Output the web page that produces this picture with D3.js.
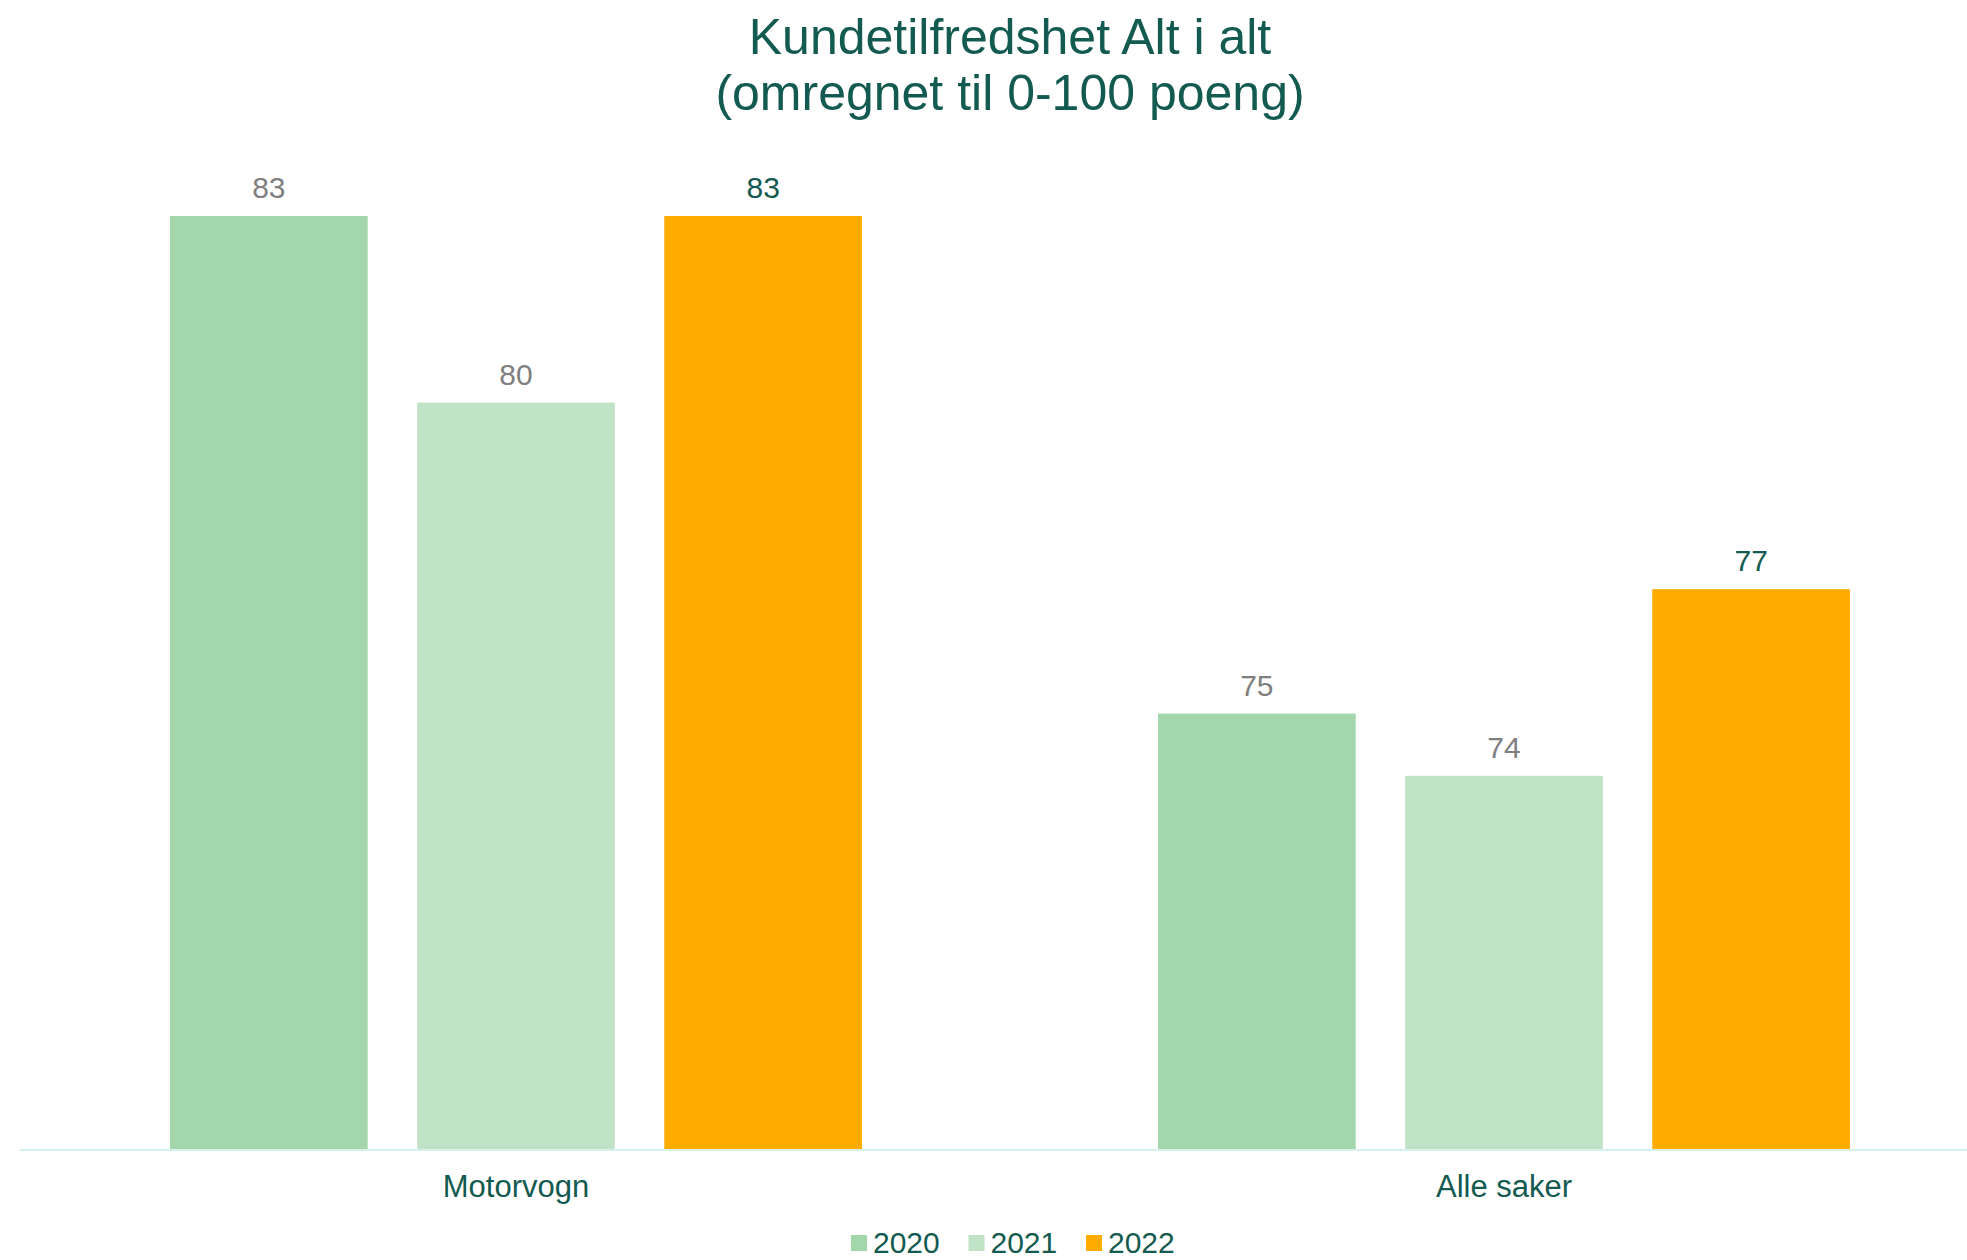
<!DOCTYPE html>
<html>
<head>
<meta charset="utf-8">
<script src="https://cdn.jsdelivr.net/npm/d3@7"></script>
<style>
  body { margin: 0; background: #fff; }
  text { font-family: "Liberation Sans", Arial, sans-serif; }
</style>
</head>
<body>
<script>
const w = 1967;
const h = 1260;

// data
const categories = ['Motorvogn', 'Alle saker'];
const years = ['2020', '2021', '2022'];
const values2020 = [83, 75];
const values2021 = [80, 74];
const values2022 = [83, 77];
const seriesValues = [values2020, values2021, values2022];
const colors = ['#a3d6ab', '#c0e2c7', '#ffab00'];
const labelColors = ['#7f7f7f', '#7f7f7f', '#135a50'];
const titleLines = ['Kundetilfredshet Alt i alt', '(omregnet til 0-100 poeng)'];

const darkGreen = '#135a50';
const baseY = 1149;

const svg = d3.select('body').append('svg')
    .attr('width', w)
    .attr('height', h);

const x0 = d3.scaleBand()
    .domain(categories)
    .range([22, 1998]);

const x1 = d3.scaleBand()
    .domain(years)
    .range([148, 840])
    .paddingInner(0.2);

const y = d3.scaleLinear()
    .domain([68, 84])
    .range([baseY, baseY - 16 * 62.2]);

// title
svg.append('g').selectAll('text')
    .data(titleLines)
    .enter()
    .append('text')
        .text(d => d)
        .attr('x', 1010)
        .attr('y', (d, i) => 54 + i * 56)
        .attr('text-anchor', 'middle')
        .attr('font-size', 50)
        .attr('fill', darkGreen);

// bars
const rows = [];
categories.forEach((c, ci) => {
    years.forEach((yr, si) => {
        rows.push({ cat: c, year: yr, si: si, v: seriesValues[si][ci] });
    });
});

svg.append('g').selectAll('rect')
    .data(rows)
    .enter()
    .append('rect')
        .attr('x', d => x0(d.cat) + x1(d.year))
        .attr('y', d => y(d.v))
        .attr('width', x1.bandwidth())
        .attr('height', d => baseY - y(d.v))
        .attr('fill', d => colors[d.si]);

svg.append('g').selectAll('text')
    .data(rows)
    .enter()
    .append('text')
        .text(d => d.v)
        .attr('x', d => x0(d.cat) + x1(d.year) + x1.bandwidth() / 2)
        .attr('y', d => y(d.v) - 18)
        .attr('text-anchor', 'middle')
        .attr('font-size', 30)
        .attr('fill', d => labelColors[d.si]);

// x axis line
svg.append('line')
    .attr('x1', 20)
    .attr('x2', w)
    .attr('y1', baseY + 1)
    .attr('y2', baseY + 1)
    .attr('stroke', '#d5f0ee')
    .attr('stroke-width', 2);

const xAxis = d3.axisBottom(x0).tickSize(0).tickPadding(0);
const gx = svg.append('g')
    .attr('transform', `translate(0,${baseY})`)
    .call(xAxis);
gx.select('.domain').remove();
gx.selectAll('text')
    .attr('dy', null)
    .attr('y', 48)
    .attr('font-size', 31)
    .attr('font-family', '"Liberation Sans", Arial, sans-serif')
    .attr('fill', darkGreen);

// legend
const legend = svg.append('g').selectAll('g')
    .data(years)
    .enter()
    .append('g')
        .attr('transform', (d, i) => `translate(${851 + i * 117.5},1235)`);

legend.append('rect')
    .attr('width', 16)
    .attr('height', 16)
    .attr('fill', (d, i) => colors[i]);

legend.append('text')
    .text(d => d)
    .attr('x', 22)
    .attr('y', 18)
    .attr('font-size', 30)
    .attr('fill', darkGreen);
</script>
</body>
</html>
